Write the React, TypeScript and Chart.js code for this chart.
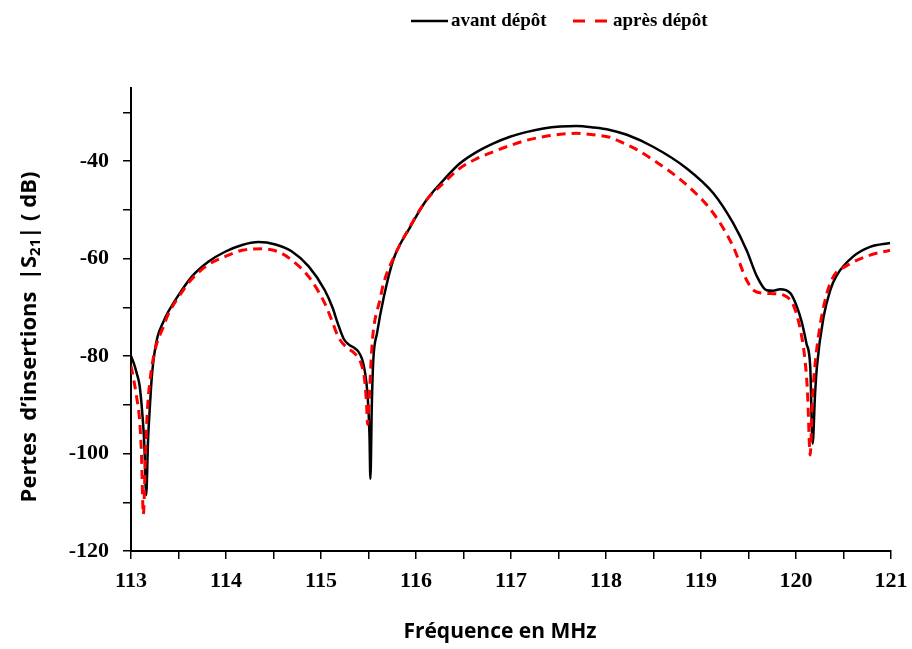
import React, { useEffect, useRef } from "react";
import { Chart, registerables } from "chart.js";

Chart.register(...registerables);

const legendLabels = ["avant dépôt", "après dépôt"];
const xTitle = "Fréquence en MHz";
const yTitleParts = ["Pertes  d’insertions  |S", "21", "| ( dB)"];

const freqAvant = [
  113.0, 113.03, 113.06, 113.09, 113.12, 113.14, 113.16, 113.18, 113.2, 113.22, 113.25, 113.28, 113.34,
  113.39, 113.49, 113.64, 113.81, 113.99, 114.17, 114.34, 114.52, 114.69, 114.87, 115.04, 115.12, 115.18,
  115.24, 115.29, 115.34, 115.39, 115.43, 115.46, 115.49, 115.51, 115.52, 115.535, 115.55, 115.59, 115.66,
  115.76, 115.94, 116.11, 116.29, 116.46, 116.64, 116.81, 116.99, 117.17, 117.34, 117.52, 117.69, 117.87,
  118.04, 118.22, 118.5, 118.85, 119.13, 119.34, 119.48, 119.59, 119.69, 119.76, 119.83, 119.94, 120.01,
  120.06, 120.11, 120.15, 120.175, 120.2, 120.22, 120.29, 120.36, 120.43, 120.6, 120.78, 120.99,
];
const s21Avant = [
  -80.0, -81.5, -83.5, -86, -92, -98, -108.5, -97, -90, -84, -79, -76, -73,
  -71.0, -67.8, -63.7, -60.7, -58.6, -57.2, -56.6, -57.1, -58.5, -61.6, -66.5, -70, -73.5,
  -76.5, -77.6, -78.2, -79.0, -80.5, -83, -88, -96, -105.2, -90, -81, -75.3, -68,
  -60.3, -53.5, -48, -43.9, -40.5, -38.1, -36.4, -35.0, -34.0, -33.3, -32.9, -32.8, -33.1,
  -33.6, -34.6, -37.1, -41.5, -46.6, -52.8, -58.3, -63.7, -66.5, -66.6, -66.3, -67.1, -69.9,
  -73, -77.4, -82.2, -98, -88, -82.2, -72, -66.5, -63.4, -59.6, -57.6, -56.8,
];

const freqApres = [
  113.0, 113.03, 113.06, 113.09, 113.11, 113.13, 113.15, 113.17, 113.2, 113.25, 113.34, 113.39, 113.49,
  113.64, 113.81, 113.99, 114.17, 114.38, 114.55, 114.69, 114.87, 115.04, 115.12, 115.18, 115.28, 115.34,
  115.39, 115.43, 115.46, 115.48, 115.49, 115.51, 115.53, 115.55, 115.62, 115.66, 115.76, 115.94, 116.11,
  116.29, 116.46, 116.64, 116.81, 116.99, 117.17, 117.34, 117.52, 117.69, 117.87, 118.04, 118.15, 118.32,
  118.5, 118.85, 119.13, 119.34, 119.48, 119.56, 119.66, 119.77, 119.87, 119.98, 120.05, 120.09, 120.12,
  120.15, 120.17, 120.19, 120.24, 120.32, 120.4, 120.53, 120.78, 120.99,
];
const s21Apres = [
  -82, -85, -88.5, -93, -100, -112.5, -102, -92, -85, -79, -74, -71.5, -68.2,
  -64.2, -61.3, -59.6, -58.3, -58.0, -58.6, -60.3, -63.7, -69.2, -73, -76.0, -78.4, -79.2,
  -80.3, -82, -85, -90, -94, -88, -80, -75, -68.5, -65, -60, -53.3, -48,
  -44.5, -41.5, -39.5, -38.1, -36.8, -35.7, -35.0, -34.5, -34.3, -34.6, -35.1, -36.0, -37.6,
  -39.8, -44.9, -50.7, -57.6, -64.4, -66.6, -67.1, -67.2, -67.5, -69.9, -75, -80, -87,
  -100.3, -90, -84, -75.4, -67.5, -63.5, -61.5, -59.3, -58.3,
];

const xMin = 113;
const xMax = 121;
const yMin = -120;
const yMax = -25;

const overlayPlugin = {
  id: "overlay",
  afterDraw(chart: any) {
    const ctx = chart.ctx as CanvasRenderingContext2D;
    ctx.save();
    // legend
    const ly = 21;
    ctx.font = "bold 19px 'Liberation Serif', 'Times New Roman', serif";
    ctx.textBaseline = "middle";
    ctx.textAlign = "left";
    ctx.fillStyle = "#000";
    ctx.strokeStyle = "#000";
    ctx.lineWidth = 2.5;
    ctx.setLineDash([]);
    ctx.beginPath();
    ctx.moveTo(411, ly);
    ctx.lineTo(448, ly);
    ctx.stroke();
    ctx.fillText(legendLabels[0], 451, ly);
    ctx.strokeStyle = "#ff0000";
    ctx.lineWidth = 3;
    ctx.setLineDash([12, 10]);
    ctx.beginPath();
    ctx.moveTo(573, ly);
    ctx.lineTo(607, ly);
    ctx.stroke();
    ctx.setLineDash([]);
    ctx.fillText(legendLabels[1], 613, ly);

    // x title
    ctx.font = "bold 21px 'Open Sans', Lato, sans-serif";
    ctx.textAlign = "center";
    ctx.fillStyle = "#000";
    ctx.fillText(xTitle, 500, 632);

    // y title with subscript
    const mainFont = "bold 22px 'Open Sans', Lato, sans-serif";
    const subFont = "bold 15px 'Open Sans', Lato, sans-serif";
    ctx.font = mainFont;
    const w0 = ctx.measureText(yTitleParts[0]).width;
    const w2 = ctx.measureText(yTitleParts[2]).width;
    ctx.font = subFont;
    const w1 = ctx.measureText(yTitleParts[1]).width;
    const total = w0 + w1 + w2;
    ctx.translate(30, 337);
    ctx.rotate(-Math.PI / 2);
    ctx.textAlign = "left";
    let x = -total / 2;
    ctx.font = mainFont;
    ctx.fillText(yTitleParts[0], x, 0);
    x += w0;
    ctx.font = subFont;
    ctx.fillText(yTitleParts[1], x, 6);
    x += w1;
    ctx.font = mainFont;
    ctx.fillText(yTitleParts[2], x, 0);
    ctx.restore();
  },
};

export default function App() {
  const ref = useRef<HTMLCanvasElement | null>(null);
  useEffect(() => {
    if (!ref.current) return;
    const tickFont = { family: "'Liberation Serif', 'Times New Roman', serif", size: 22, weight: "bold" as const };
    const chart = new Chart(ref.current, {
      type: "line",
      data: {
        datasets: [
          {
            label: legendLabels[0],
            data: freqAvant.map((f, i) => ({ x: f, y: s21Avant[i] })),
            borderColor: "#000000",
            backgroundColor: "#000000",
            borderWidth: 2.5,
            pointRadius: 0,
            cubicInterpolationMode: "monotone",
            order: 2,
          },
          {
            label: legendLabels[1],
            data: freqApres.map((f, i) => ({ x: f, y: s21Apres[i] })),
            borderColor: "#ff0000",
            backgroundColor: "#ff0000",
            borderWidth: 3,
            borderDash: [9, 6],
            pointRadius: 0,
            cubicInterpolationMode: "monotone",
            order: 1,
          },
        ],
      },
      options: {
        animation: false,
        responsive: false,
        maintainAspectRatio: false,
        layout: { padding: { top: 88, right: 0, left: 0, bottom: 0 } },
        plugins: { legend: { display: false }, tooltip: { enabled: false } },
        scales: {
          x: {
            type: "linear",
            min: xMin,
            max: xMax,
            afterFit: (s: any) => {
              s.height = 98;
              s.paddingRight = 21;
              s.paddingLeft = 0;
            },
            border: { display: true, color: "#000", width: 2 },
            grid: { drawOnChartArea: false, drawTicks: true, tickLength: 8, color: "#000", lineWidth: 1.5 },
            ticks: {
              stepSize: 0.5,
              autoSkip: false,
              maxRotation: 0,
              includeBounds: false,
              padding: 9,
              color: "#000",
              font: tickFont,
              callback: (v: any) => (Math.abs(v - Math.round(v)) < 1e-6 ? String(Math.round(v)) : ""),
            },
          },
          y: {
            type: "linear",
            min: yMin,
            max: yMax,
            afterFit: (s: any) => {
              s.width = 131;
              s.paddingTop = 0;
              s.paddingBottom = 0;
            },
            border: { display: true, color: "#000", width: 2 },
            grid: { drawOnChartArea: false, drawTicks: true, tickLength: 8, color: "#000", lineWidth: 1.5 },
            ticks: {
              stepSize: 10,
              autoSkip: false,
              includeBounds: false,
              padding: 14,
              color: "#000",
              font: tickFont,
              callback: (v: any) => (Math.round(v) % 20 === 0 ? String(Math.round(v)) : ""),
            },
          },
        },
      },
      plugins: [overlayPlugin],
    });
    return () => chart.destroy();
  }, []);
  return (
    <div style={{ position: "fixed", left: 0, top: 0, width: 912, height: 649, background: "#fff" }}>
      <canvas ref={ref} width={912} height={649} style={{ display: "block", width: 912, height: 649 }} />
    </div>
  );
}
